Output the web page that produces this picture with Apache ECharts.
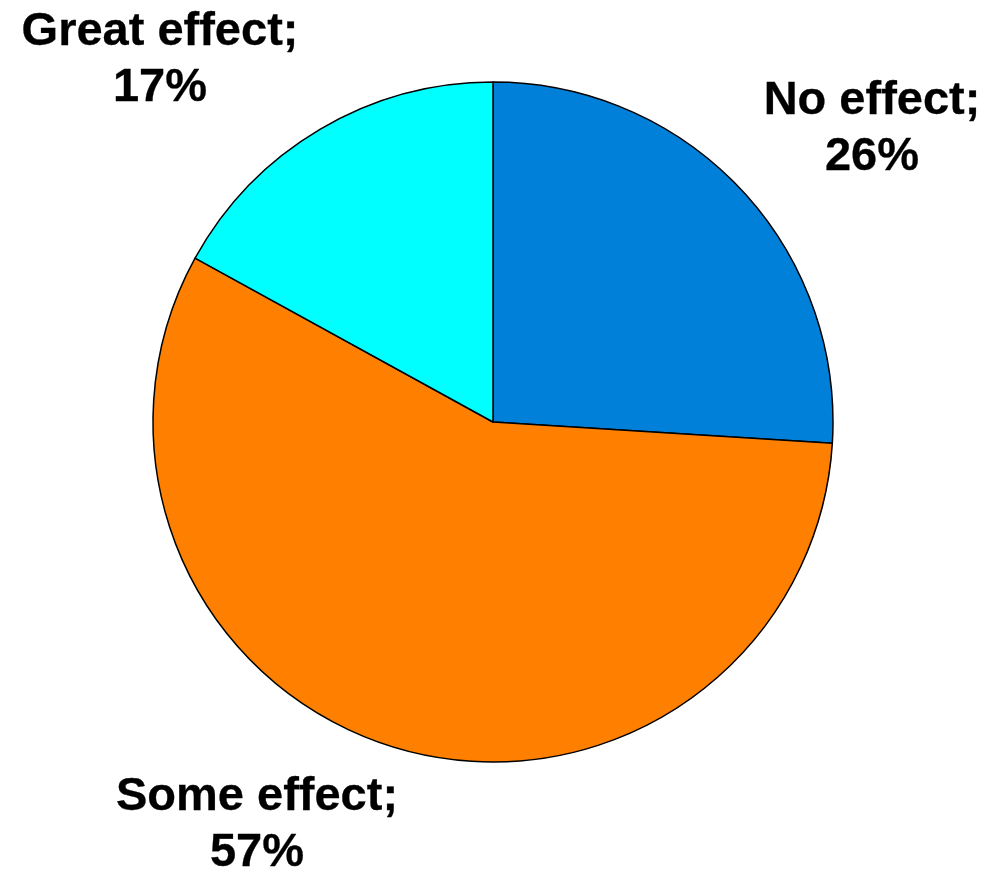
<!DOCTYPE html>
<html>
<head>
<meta charset="utf-8">
<script src="https://cdn.jsdelivr.net/npm/echarts@6/dist/echarts.min.js"></script>
<style>
  html, body { margin: 0; padding: 0; background: #ffffff; }
  #chart { width: 987px; height: 875px; }
</style>
</head>
<body>
<div id="chart"></div>
<script>
// Survey answers, drawn clockwise from 12 o'clock
const categories = ['No effect', 'Some effect', 'Great effect'];
const shares = [26, 57, 17];
const sliceColors = ['#0080D8', '#FF8000', '#00FFFF'];

// Where each two-line label block sits (centre of the block)
const labelSpots = [
  { x: 872, y: 129 },
  { x: 257, y: 825 },
  { x: 160, y: 60 }
];

const chart = echarts.init(document.getElementById('chart'), null, { renderer: 'canvas' });

chart.setOption({
  animation: false,
  series: [{
    type: 'pie',
    center: [493, 422],
    radius: 340,
    startAngle: 90,
    clockwise: true,
    avoidLabelOverlap: false,
    itemStyle: { borderColor: '#000000', borderWidth: 1.5 },
    label: {
      show: true,
      position: 'outside',
      formatter: p => p.name + ';\n' + p.value + '%',
      fontFamily: '"Liberation Sans", Arial, sans-serif',
      fontWeight: 'bold',
      fontSize: 47,
      lineHeight: 56,
      color: '#000000',
      textBorderColor: '#000000',
      textBorderWidth: 0.3,
      align: 'center',
      verticalAlign: 'middle'
    },
    labelLine: { show: false },
    labelLayout: params => ({
      x: labelSpots[params.dataIndex].x,
      y: labelSpots[params.dataIndex].y,
      align: 'center',
      verticalAlign: 'middle'
    }),
    emphasis: { disabled: true },
    data: categories.map((name, i) => ({
      name: name,
      value: shares[i],
      itemStyle: { color: sliceColors[i] }
    }))
  }]
});
</script>
</body>
</html>
